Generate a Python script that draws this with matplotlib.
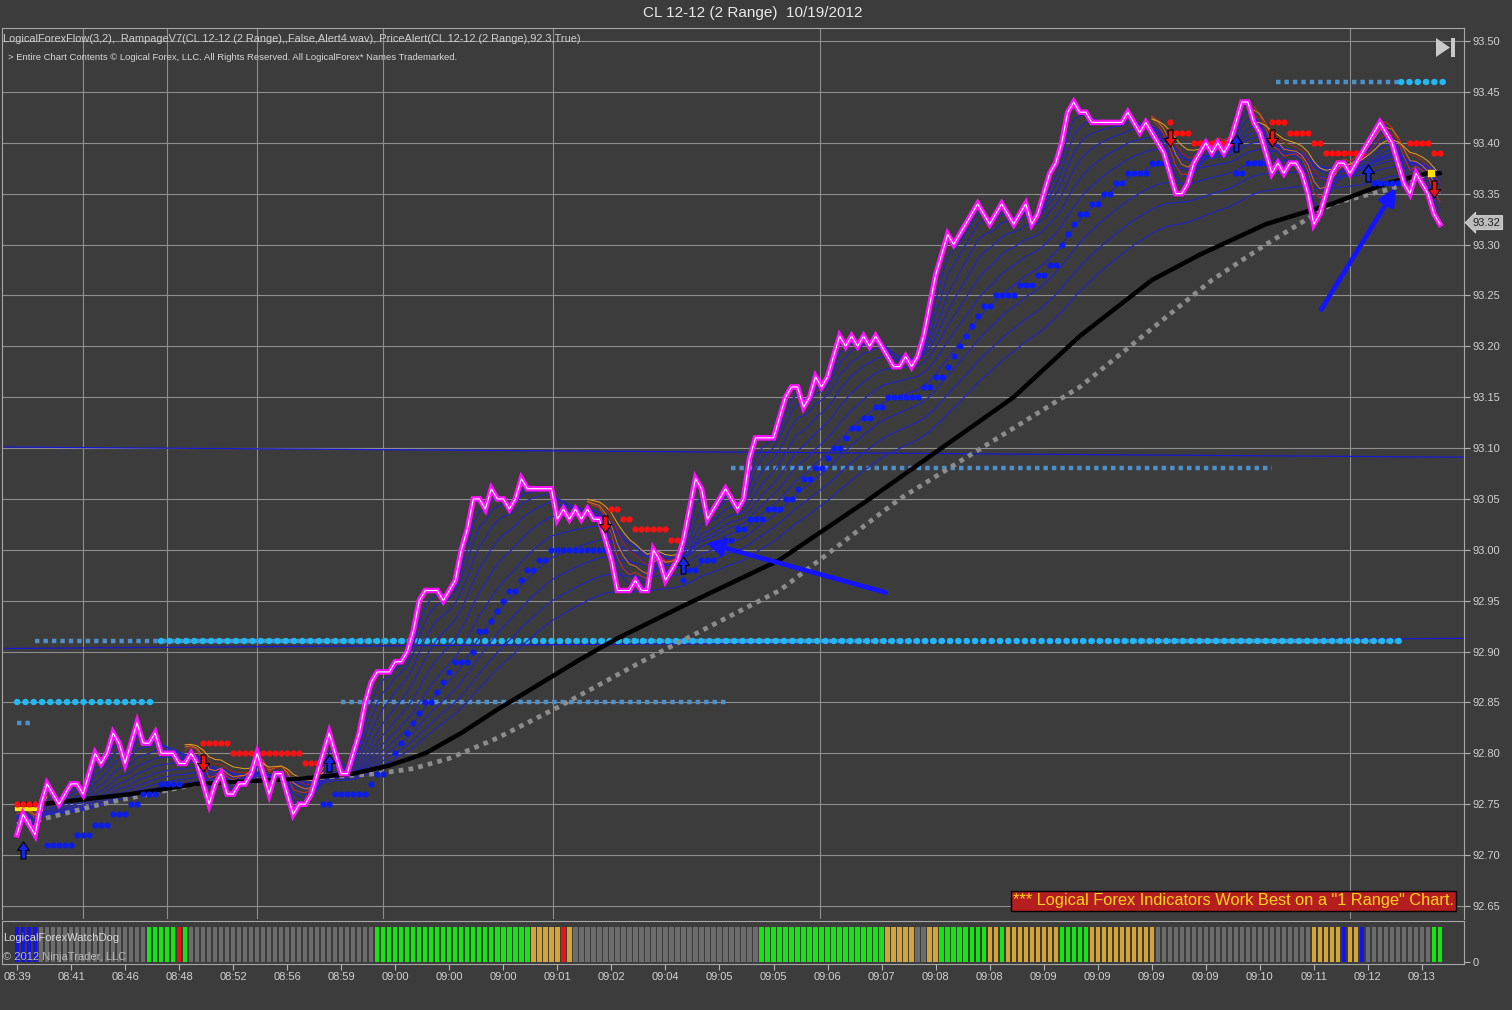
import numpy as np
import matplotlib.pyplot as plt
from matplotlib.path import Path
from matplotlib.patches import Polygon
import matplotlib.transforms as mtransforms

plt.rcParams['font.family'] = ['Liberation Sans', 'DejaVu Sans']

W, H = 1512, 1010

# ---- data --------------------------------------------------------------
price = [
    92.72, 92.74, 92.73, 92.72, 92.75, 92.77, 92.76, 92.75, 92.76, 92.77,
    92.77, 92.76, 92.78, 92.80, 92.79, 92.80, 92.82, 92.81, 92.79, 92.81,
    92.83, 92.81, 92.81, 92.82, 92.80, 92.80, 92.80, 92.79, 92.79, 92.80,
    92.79, 92.77, 92.75, 92.77, 92.78, 92.76, 92.76, 92.77, 92.77, 92.78,
    92.80, 92.78, 92.76, 92.78, 92.78, 92.76, 92.74, 92.75, 92.75, 92.76,
    92.78, 92.80, 92.82, 92.80, 92.78, 92.78, 92.80, 92.82, 92.85, 92.87,
    92.88, 92.88, 92.88, 92.89, 92.89, 92.90, 92.92, 92.95, 92.96, 92.96,
    92.96, 92.95, 92.96, 92.97, 93.00, 93.02, 93.05, 93.05, 93.04, 93.06,
    93.05, 93.05, 93.04, 93.05, 93.07, 93.06, 93.06, 93.06, 93.06, 93.06,
    93.03, 93.04, 93.03, 93.04, 93.03, 93.04, 93.03, 93.03, 93.01, 92.99,
    92.96, 92.96, 92.96, 92.97, 92.96, 92.96, 93.00, 92.99, 92.97, 92.98,
    92.99, 93.01, 93.04, 93.07, 93.06, 93.03, 93.04, 93.05, 93.06, 93.05,
    93.04, 93.05, 93.09, 93.11, 93.11, 93.11, 93.11, 93.13, 93.15, 93.16,
    93.16, 93.14, 93.15, 93.17, 93.16, 93.17, 93.19, 93.21, 93.20, 93.21,
    93.20, 93.21, 93.20, 93.21, 93.20, 93.19, 93.18, 93.18, 93.19, 93.18,
    93.19, 93.21, 93.24, 93.27, 93.29, 93.31, 93.30, 93.31, 93.32, 93.33,
    93.34, 93.33, 93.32, 93.33, 93.34, 93.33, 93.32, 93.33, 93.34, 93.32,
    93.33, 93.35, 93.37, 93.38, 93.40, 93.43, 93.44, 93.43, 93.43, 93.42,
    93.42, 93.42, 93.42, 93.42, 93.42, 93.43, 93.42, 93.41, 93.42, 93.41,
    93.40, 93.39, 93.37, 93.35, 93.35, 93.36, 93.38, 93.39, 93.40, 93.39,
    93.40, 93.39, 93.40, 93.42, 93.44, 93.44, 93.42, 93.41, 93.39, 93.37,
    93.38, 93.37, 93.38, 93.38, 93.37, 93.35, 93.32, 93.33, 93.35, 93.37,
    93.38, 93.38, 93.37, 93.38, 93.39, 93.40, 93.41, 93.42, 93.41, 93.40,
    93.38, 93.36, 93.35, 93.37, 93.36, 93.35, 93.33, 93.32,
]

# slow averages (bar, price)
black_bars = [0, 4, 19, 30, 47, 56, 62, 68, 74, 80, 87, 94, 100, 111, 127,
              142, 154, 166, 177, 189, 197, 208, 219, 228, 235, 237]
black_vals = [92.75, 92.75, 92.76, 92.77, 92.775, 92.78, 92.788, 92.80, 92.82,
              92.843, 92.868, 92.893, 92.913, 92.945, 92.99, 93.05, 93.10,
              93.15, 93.21, 93.265, 93.29, 93.32, 93.34, 93.36, 93.37, 93.37]
grey_bars = [0, 4, 14, 22, 30, 47, 60, 66, 72, 80, 90, 104, 127, 147, 177,
             199, 208, 219, 229, 235]
grey_vals = [92.73, 92.735, 92.75, 92.76, 92.77, 92.775, 92.78, 92.785, 92.795,
             92.815, 92.845, 92.89, 92.96, 93.05, 93.16, 93.265, 93.30, 93.34,
             93.355, 93.37]

fan_periods = [3, 5, 8, 12, 17, 23, 30, 38, 47, 57]
fan_seed = 92.74
red_periods = [3, 5, 8, 12]
down_regimes = [(0, 5), (28, 51), (95, 111), (189, 203), (206, 237)]

# trailing stops: (first bar, last bar, level)
blue_stops = [
    (5, 9, 92.71), (10, 12, 92.72), (13, 15, 92.73), (16, 18, 92.74),
    (19, 20, 92.75), (21, 23, 92.76), (24, 27, 92.77),
    (51, 52, 92.75), (53, 58, 92.76), (59, 59, 92.77), (60, 61, 92.78),
    (63, 63, 92.80), (64, 64, 92.81), (65, 65, 92.82), (66, 66, 92.83),
    (67, 67, 92.84), (68, 69, 92.85), (70, 70, 92.86), (71, 71, 92.87),
    (72, 72, 92.88), (73, 75, 92.89), (76, 76, 92.90), (77, 78, 92.92),
    (79, 79, 92.93), (80, 80, 92.94), (81, 81, 92.95), (82, 83, 92.96),
    (84, 84, 92.97), (85, 86, 92.98), (87, 88, 92.99), (89, 98, 93.00),
    (111, 111, 92.97), (112, 113, 92.98), (114, 116, 92.99), (117, 117, 93.00),
    (118, 119, 93.01), (120, 121, 93.02), (122, 124, 93.03), (125, 127, 93.04),
    (128, 129, 93.05), (130, 130, 93.06), (131, 132, 93.07), (133, 134, 93.08),
    (135, 135, 93.09), (136, 137, 93.10), (138, 138, 93.11), (139, 140, 93.12),
    (141, 142, 93.13), (143, 144, 93.14), (145, 150, 93.15), (151, 152, 93.16),
    (153, 154, 93.17), (155, 155, 93.18), (156, 156, 93.19), (157, 157, 93.20),
    (158, 158, 93.21), (159, 159, 93.22), (160, 160, 93.23), (161, 162, 93.24),
    (163, 166, 93.25), (167, 169, 93.26), (170, 171, 93.27), (172, 173, 93.28),
    (174, 174, 93.30), (175, 175, 93.31), (176, 176, 93.32), (177, 178, 93.33),
    (179, 180, 93.34), (181, 182, 93.35), (183, 184, 93.36), (185, 188, 93.37),
    (189, 191, 93.38), (203, 204, 93.37), (205, 208, 93.38), (226, 231, 93.36),
]
red_stops = [
    (0, 4, 92.75), (31, 35, 92.81), (36, 47, 92.80), (48, 50, 92.79),
    (99, 100, 93.04), (101, 102, 93.03), (103, 108, 93.02), (109, 110, 93.01),
    (192, 192, 93.42), (193, 195, 93.41), (196, 202, 93.40), (209, 211, 93.42),
    (212, 215, 93.41), (216, 217, 93.40), (218, 224, 93.39), (232, 235, 93.40),
    (236, 237, 93.39),
]

up_arrow_bars = [1, 52, 111, 203, 225]
up_arrow_vals = [92.705, 92.79, 92.985, 93.40, 93.37]
down_arrow_bars = [31, 98, 192, 209, 236]
down_arrow_vals = [92.79, 93.025, 93.405, 93.405, 93.355]

# horizontal alert levels: (first bar, last bar, level)
square_levels = [(0, 2.5, 92.83), (54, 118.5, 92.85), (3, 230.5, 92.91),
                 (119, 209, 93.08), (209.7, 230.5, 93.46)]
circle_levels = [(0, 23.5, 92.85), (24, 230.5, 92.91), (230.5, 237.5, 93.46)]
trend_lines = [((-2.5, 93.101), (241, 93.091)), ((-2.5, 92.903), (241, 92.913))]
callouts = [((144.7, 92.958), (114.7, 93.007)), ((217.2, 93.236), (229.7, 93.356))]

watchdog_runs = [
    ('blue', 4), ('grey', 18), ('green', 5), ('red', 1), ('green', 1),
    ('grey', 31), ('green', 26), ('orange', 5), ('red', 1), ('orange', 1),
    ('grey', 31), ('green', 21), ('orange', 5), ('grey', 2), ('orange', 2),
    ('green', 8), ('orange', 2), ('green', 1), ('orange', 9), ('green', 5),
    ('orange', 11), ('grey', 26), ('orange', 5), ('blue', 1), ('orange', 2),
    ('blue', 1), ('grey', 11), ('green', 2),
]
watchdog_palette = {'blue': '#1414e6', 'grey': '#6c6c6c', 'green': '#14e614',
                    'orange': '#d4a437', 'red': '#e81414'}

time_labels = ['08:39', '08:41', '08:46', '08:48', '08:52', '08:56', '08:59',
               '09:00', '09:00', '09:00', '09:01', '09:02', '09:04', '09:05',
               '09:05', '09:06', '09:07', '09:08', '09:08', '09:09', '09:09',
               '09:09', '09:09', '09:10', '09:11', '09:12', '09:13']
time_grid_bars = [11, 25, 40, 61, 89.3, 133.8, 222]
price_ticks = np.round(np.arange(92.65, 93.501, 0.05), 2)


def ema(values, n, seed):
    k = 2.0 / (n + 1)
    level = seed
    out = []
    for v in values:
        level = level + k * (v - level)
        out.append(level)
    return np.array(out)


def fx(px):
    return px / W


def fy(py):
    return 1 - py / H


bg = '#3c3c3c'
txt = '#d0d0d0'
bars = np.arange(len(price))

fig = plt.figure(figsize=(W / 100, H / 100), dpi=100, facecolor=bg)
ax = fig.add_axes([fx(2), fy(919), (1464 - 2) / W, (919 - 28) / H], facecolor=bg)
ax2 = fig.add_axes([fx(2), fy(964), (1464 - 2) / W, (964 - 921) / H], facecolor=bg)

k = 0.05 / 50.88
ax.set_ylim(93.50 - (919 - 41) * k, 93.50 + (41 - 28) * k)
ax.set_xlim(-2.5, 241)
ax2.set_xlim(-2.5, 241)
ax2.set_ylim(-2 / 35, 1 + 6 / 35)

# grid
for p in price_ticks:
    ax.axhline(p, color='#8e8e8e', lw=0.8, zorder=0)
for b in time_grid_bars:
    ax.axvline(b, color='#8e8e8e', lw=0.8, zorder=0)

# trend lines
for (x0, y0), (x1, y1) in trend_lines:
    ax.plot([x0, x1], [y0, y1], color='#1a1ad2', lw=0.9, zorder=1)

# alert levels
for a, b, lvl in square_levels:
    ax.plot([a, b], [lvl, lvl], color='#4d8fc6', lw=3.2, ls=(0, (1, 0.9)),
            dash_capstyle='butt', zorder=2)
for a, b, lvl in circle_levels:
    ax.plot([a, b], [lvl, lvl], color='#22b8f2', lw=4.6, ls=(0, (0.05, 1.25)),
            dash_capstyle='round', zorder=2)

# fan of averages
for n in fan_periods:
    ax.plot(bars, ema(price, n, fan_seed), color='#2626b8', lw=0.9, zorder=3)

red_colors = ['#c8321c', '#d8741e', '#a02818', '#e2a224']
for a, b in down_regimes:
    seg = slice(a, b + 1)
    for n, c in zip(red_periods, red_colors):
        ax.plot(bars[seg], ema(price, n, fan_seed)[seg] + 0.01, color=c,
                lw=0.7, zorder=3)

# slow averages
ax.plot(grey_bars, grey_vals, color='#8c8c8c', lw=3.4, ls=(0, (1, 1.1)),
        dash_capstyle='butt', zorder=4)
ax.plot(black_bars, black_vals, color='black', lw=3.2, zorder=4,
        solid_capstyle='round')
ax.plot([0, 4], [92.745, 92.745], color='#ffe400', lw=3, zorder=4)
ax.scatter([235.5], [93.37], marker='s', s=22, color='#ffe400', zorder=5)

# trailing stop dots
for a, b, lvl in blue_stops:
    xs = np.arange(a, b + 1)
    ax.scatter(xs, np.full(len(xs), lvl), s=20, color='#0a1cf0', lw=0, zorder=5)
for a, b, lvl in red_stops:
    xs = np.arange(a, b + 1)
    ax.scatter(xs, np.full(len(xs), lvl), s=20, color='#ff1010', lw=0, zorder=5)

# price
ax.plot(bars, price, color='#ff10ff', lw=4, zorder=6, solid_joinstyle='miter')
ax.plot(bars, price, color='white', lw=0.8, zorder=7)

# signal arrows
up_path = Path([(-0.28, -1), (0.28, -1), (0.28, 0), (0.7, 0), (0, 1),
                (-0.7, 0), (-0.28, 0), (-0.28, -1)], closed=True)
down_path = Path([(x, -y) for x, y in up_path.vertices], closed=True)
ax.scatter(up_arrow_bars, up_arrow_vals, marker=up_path, s=150,
           color='#1428e6', edgecolors='black', lw=0.8, zorder=8)
ax.scatter(down_arrow_bars, down_arrow_vals, marker=down_path, s=150,
           color='#f01010', edgecolors='black', lw=0.8, zorder=8)

for start, end in callouts:
    ax.annotate('', xy=end, xytext=start,
                arrowprops=dict(arrowstyle='-|>', color='#1414ff', lw=3.4,
                                mutation_scale=24, shrinkA=0, shrinkB=0),
                zorder=9)

# axes styling
ax.yaxis.tick_right()
ax.set_yticks(price_ticks)
ax.set_yticklabels([f'{p:.2f}' for p in price_ticks])
ax.tick_params(axis='y', colors='#b4b4b4', labelcolor=txt, labelsize=8,
               length=4, width=0.8, pad=2)
ax.set_xticks([])
for side in ['left', 'top', 'right']:
    ax.spines[side].set_color('#a8a8a8')
    ax.spines[side].set_linewidth(0.8)
ax.spines['bottom'].set_visible(False)

last_tf = mtransforms.blended_transform_factory(ax.transAxes, ax.transData)
ax.text(1.006, price[-1] + 0.0015, f'{price[-1]:.2f}', transform=last_tf,
        fontsize=8, color='#1e1e1e', va='center', ha='left',
        bbox=dict(boxstyle='larrow,pad=0.18', fc='#bdbdbd', ec='#dcdcdc', lw=0.6))

# watchdog panel
wd_colors = []
for name, count in watchdog_runs:
    wd_colors += [watchdog_palette[name]] * count
ax2.bar(np.arange(len(wd_colors)), 1.0, width=0.72, color=wd_colors, align='center')
ax2.yaxis.tick_right()
ax2.set_yticks([0])
ax2.set_yticklabels(['0'])
ax2.set_xticks(np.arange(len(time_labels)) * 9)
ax2.set_xticklabels(time_labels)
ax2.tick_params(colors='#b4b4b4', labelcolor=txt, labelsize=8, length=4,
                width=0.8, pad=2)
for side in ax2.spines:
    ax2.spines[side].set_color('#a8a8a8')
    ax2.spines[side].set_linewidth(0.8)

# texts
fig.text(0.498, fy(13), 'CL 12-12 (2 Range)  10/19/2012', ha='center',
         va='center', fontsize=11, color='#e8e8e8')
fig.text(fx(3), fy(39), 'LogicalForexFlow(3,2),  RampageV7(CL 12-12 (2 Range),,'
         'False,Alert4.wav), PriceAlert(CL 12-12 (2 Range),92.3,True)',
         ha='left', va='center', fontsize=7.9, color='#cfcfcf')
fig.text(fx(8), fy(57), '> Entire Chart Contents \u00a9 Logical Forex, LLC. All '
         'Rights Reserved. All LogicalForex* Names Trademarked.',
         ha='left', va='center', fontsize=6.8, color='#d8d8d8')
fig.text(fx(3), fy(938), 'LogicalForexWatchDog', ha='left', va='center',
         fontsize=8, color='#d8d8d8')
fig.text(fx(3), fy(957), '\u00a9 2012 NinjaTrader, LLC', ha='left', va='center',
         fontsize=8, color='#b8b8b8')
fig.text(fx(1013), fy(901), '*** Logical Forex Indicators Work Best on a '
         '"1 Range" Chart.', ha='left', va='center', fontsize=11.8,
         color='#ffd21e',
         bbox=dict(boxstyle='square,pad=0.14', fc='#b41e1e', ec='black', lw=1))

# "jump to end" icon
fig.add_artist(Polygon([(fx(1436), fy(38)), (fx(1436), fy(57)), (fx(1450), fy(47.5))],
                       closed=True, transform=fig.transFigure, fc='#c8c8c8', ec='none'))
fig.add_artist(Polygon([(fx(1451), fy(38)), (fx(1455), fy(38)), (fx(1455), fy(57)),
                        (fx(1451), fy(57))], closed=True, transform=fig.transFigure,
                       fc='#c8c8c8', ec='none'))

fig.savefig('out.png', dpi=100, facecolor=bg)
